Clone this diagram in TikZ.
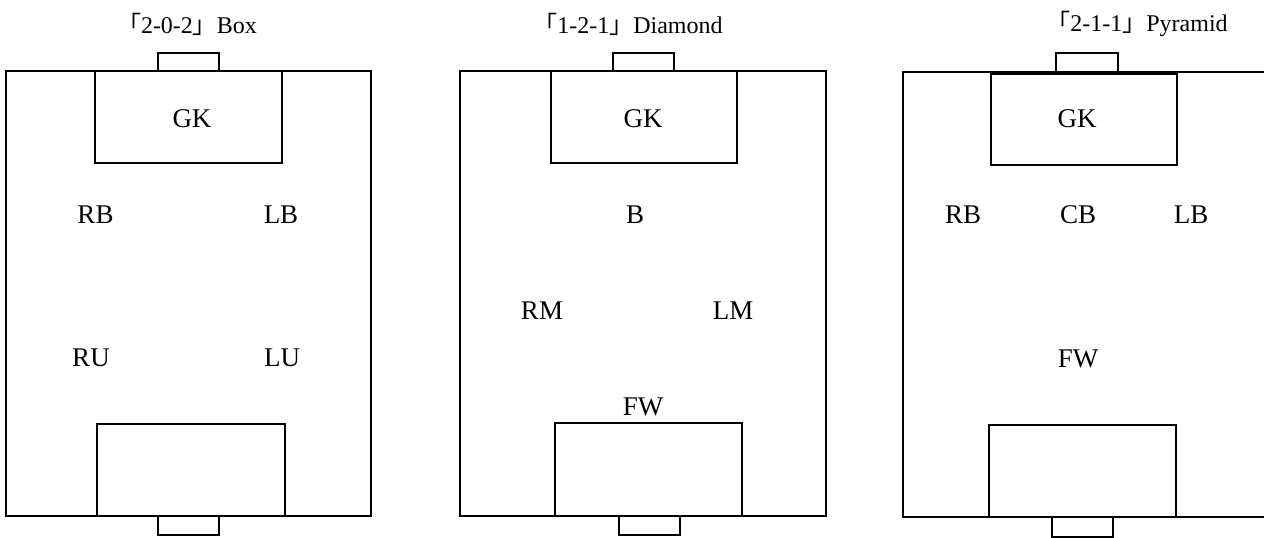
\documentclass[tikz,border=0pt]{standalone}
\usepackage{fontspec}
\setmainfont{Liberation Serif}
\newfontfamily\cjk{Noto Sans CJK TC}
\begin{document}
\begin{tikzpicture}[x=1pt,y=-1pt,
  field/.style={draw=black,line width=1.6pt},
  area/.style={draw=black,line width=1.3pt},
  goal/.style={draw=black,line width=1.2pt},
  plabel/.style={font=\fontsize{27}{31}\selectfont,inner sep=0pt},
  ptitle/.style={font=\fontsize{24}{28}\selectfont,inner sep=0pt}]
\useasboundingbox (0,0) rectangle (1264,538);
\clip (0,0) rectangle (1264,538);
% ---------- Panel 1 ----------
\node[ptitle] (t1) at (187,24) {{\cjk 「}2-0-2{\cjk 」}Box};
\draw[field] (6,71) rectangle (371,516);
\draw[goal] (158,53) rectangle (219,71);
\draw[area] (95,71) rectangle (282,163);
\draw[area] (97,424) rectangle (285,516);
\draw[goal] (158,516) rectangle (219,535);
\node[plabel] (gk1) at (192,119) {GK};
\node[plabel] (rb1) at (95.5,215) {RB};
\node[plabel] (lb1) at (281,215) {LB};
\node[plabel] (ru1) at (91,358) {RU};
\node[plabel] (lu1) at (282,358) {LU};
% ---------- Panel 2 ----------
\node[ptitle] (t2) at (628,24) {{\cjk 「}1-2-1{\cjk 」}Diamond};
\draw[field] (460,71) rectangle (826,516);
\draw[goal] (613,53) rectangle (674,71);
\draw[area] (551,71) rectangle (737,163);
\draw[area] (555,423) rectangle (742,516);
\draw[goal] (619,516) rectangle (680,535);
\node[plabel] (gk2) at (643,119) {GK};
\node[plabel] (b2) at (635,215) {B};
\node[plabel] (rm2) at (542,311) {RM};
\node[plabel] (lm2) at (733,311) {LM};
\node[plabel] (fw2) at (643,407) {FW};
% ---------- Panel 3 ----------
\node[ptitle] (t3) at (1137,24) {{\cjk 「}2-1-1{\cjk 」}Pyramid};
\draw[field] (903,72) rectangle (1275,517);
\draw[goal] (1056,53) rectangle (1118,72);
\draw[area] (991,74) rectangle (1177,165);
\draw[area] (989,425) rectangle (1176,517);
\draw[goal] (1052,517) rectangle (1113,537);
\node[plabel] (gk3) at (1077,119) {GK};
\node[plabel] (rb3) at (963,215) {RB};
\node[plabel] (cb3) at (1078,215) {CB};
\node[plabel] (lb3) at (1191,215) {LB};
\node[plabel] (fw3) at (1078,359) {FW};
\end{tikzpicture}
\end{document}
